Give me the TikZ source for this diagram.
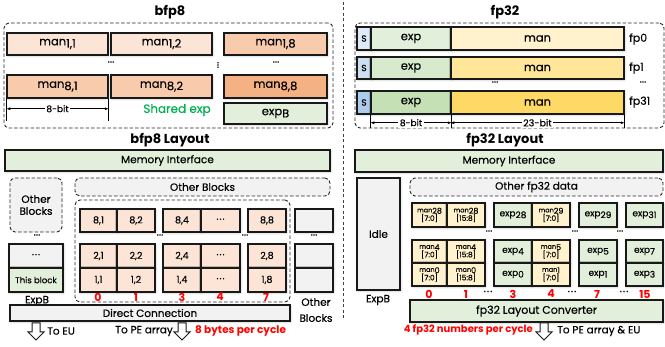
\documentclass[tikz,border=0pt]{standalone}
\usepackage{fontspec}
\setmainfont{Poppins}[UprightFeatures={FakeBold=0.35}]
\usetikzlibrary{shadows.blur,arrows.meta}

\definecolor{peachL}{HTML}{FCE4D6}
\definecolor{peachM}{HTML}{F8CBAD}
\definecolor{peachD}{HTML}{F4B183}
\definecolor{greenL}{HTML}{E2EFDA}
\definecolor{greenN}{HTML}{D8EACD}
\definecolor{greenM}{HTML}{C5E0B4}
\definecolor{yelL}{HTML}{FFF2CC}
\definecolor{yelM}{HTML}{FFE699}
\definecolor{yelD}{HTML}{FFD966}
\definecolor{bluL}{HTML}{DEEBF7}
\definecolor{bluM}{HTML}{CCDFF2}
\definecolor{bluD}{HTML}{ADCBEA}
\definecolor{grayF}{HTML}{F2F2F2}
\definecolor{sgreen}{HTML}{00B050}
\definecolor{hired}{HTML}{FF0000}

% cell given by its corners: style, x1, y1, x2, y2, name, text
\newcommand\cb[7]{\node[#1, minimum width={(#4)-(#2)}, minimum height={(#5)-(#3)}] (#6) at ({((#2)+(#4))/2},{((#3)+(#5))/2}) {#7};}
% lowered index, same size as the word
\newcommand\sub[1]{\raisebox{-0.35ex}{#1}}
% small fp32 layout cell text
\newcommand\mant[2]{{\fontsize{6.5}{6.5}\selectfont man}\raisebox{-0.3ex}{\fontsize{8}{8}\selectfont #1}\\{\fontsize{7.5}{8}\selectfont[#2]}}
\newcommand\expn[1]{exp\raisebox{-0.35ex}{#1}}
\newcommand\mdots{·\hspace{1pt}·\hspace{1pt}·}

\begin{document}
\begin{tikzpicture}[x=1pt,y=-1pt,
  cellb/.style={draw=black!90, line width=1.5pt, inner sep=0pt, align=center,
    font=\fontsize{10.5}{12}\selectfont,
    blur shadow={shadow blur steps=6, shadow xshift=0.6pt, shadow yshift=-0.8pt, shadow opacity=30}},
  bigc/.style={cellb, font=\fontsize{11.5}{12}\selectfont},
  smallc/.style={cellb, font=\fontsize{9.5}{10}\selectfont},
  expc/.style={cellb, fill=greenL, font=\fontsize{9}{10}\selectfont},
  manc/.style={cellb, fill=yelL, font=\fontsize{8}{8.5}\selectfont},
  dbox/.style={draw=black!85, dash pattern=on 3.5pt off 2pt, line width=0.9pt,
    rounded corners=5pt, inner sep=0pt, align=center, font=\fontsize{10.5}{12}\selectfont},
  ttl/.style={font=\fontsize{13}{14}\selectfont\bfseries, inner sep=0pt},
  lbl/.style={font=\fontsize{10.5}{12}\selectfont, inner sep=0pt, align=center},
  rnum/.style={font=\fontsize{11}{12}\selectfont\bfseries, text=hired, inner sep=0pt},
  dim/.style={line width=0.6pt, {Latex[length=4pt,width=3pt]}-{Latex[length=4pt,width=3pt]}},
  tick/.style={line width=0.6pt},
  hollow/.style={draw=black!90, line width=1pt, fill=white, line join=miter}
]
\useasboundingbox (0,0) rectangle (665,347);

% ---------- separator ----------
\coordinate (sepT) at (343,2);
\coordinate (sepB) at (343,320);
\draw[black!75, line width=1pt, dash pattern=on 3pt off 2.5pt] (sepT) -- (sepB);

% ================= bfp8 block =================
\node[ttl] (tbfp) at (170,12) {bfp8};
\cb{dbox}{4}{23}{333}{128}{gbfp}{}
\cb{bigc,fill=peachL}{7}{33}{108}{55}{m11}{man\sub{1,1}}
\cb{bigc,fill=peachL}{111}{33}{212}{55}{m12}{man\sub{1,2}}
\cb{bigc,fill=peachM}{224}{33}{327}{55}{m18}{man\sub{1,8}}
\cb{bigc,fill=peachM}{7}{75}{108}{98}{m81}{man\sub{8,1}}
\cb{bigc,fill=peachM}{111}{75}{212}{98}{m82}{man\sub{8,2}}
\cb{bigc,fill=peachD}{224}{75}{327}{98}{m88}{man\sub{8,8}}
\cb{bigc,fill=greenL}{224}{103}{327}{124}{expb}{exp\sub{B}}
\node[lbl] (bd1) at (111,62) {...};
\node[lbl] (bd2) at (276,62) {...};
\node[lbl, rotate=90] (bd3) at (218,65) {...};
\node[font=\fontsize{12}{13}\selectfont, text=sgreen, inner sep=0pt] (shexp) at (177,110) {Shared exp};
% 8-bit width
\coordinate (b8a) at ([yshift=-22pt]m81.south west);
\coordinate (b8b) at ([yshift=-22pt]m81.south east);
\draw[tick] (m81.south west) -- (b8a);
\draw[tick] (m81.south east) -- (b8b);
\draw[dim] ([yshift=-10pt]m81.south west) -- ([yshift=-10pt]m81.south east)
  node[midway, fill=white, inner sep=1.5pt, font=\fontsize{9}{10}\selectfont] (b8lbl) {8-bit};

% ================= fp32 block =================
\node[ttl] (tfp) at (505,12) {fp32};
\cb{dbox}{355}{23}{664}{128}{gfp}{}
\cb{cellb,fill=bluL,font=\fontsize{9}{10}\selectfont}{357}{27}{371}{50}{s0}{S}
\cb{bigc,fill=greenL}{371}{27}{451}{50}{e0}{exp}
\cb{bigc,fill=yelL}{451}{27}{624}{50}{f0}{man}
\cb{cellb,fill=bluM,font=\fontsize{9}{10}\selectfont}{357}{57}{371}{79}{s1}{S}
\cb{bigc,fill=greenN}{371}{57}{451}{79}{e1}{exp}
\cb{bigc,fill=yelM}{451}{57}{624}{79}{f1}{man}
\cb{cellb,fill=bluD,font=\fontsize{9}{10}\selectfont}{357}{91}{371}{114}{s31}{S}
\cb{bigc,fill=greenM}{371}{91}{451}{114}{e31}{exp}
\cb{bigc,fill=yelD}{451}{91}{624}{114}{f31}{man}
\node[lbl, anchor=west, font=\fontsize{11}{12}\selectfont] (lfp0) at (629,39) {fp0};
\node[lbl, anchor=west, font=\fontsize{11}{12}\selectfont] (lfp1) at (629,68) {fp1};
\node[lbl, anchor=west, font=\fontsize{11}{12}\selectfont] (lfp31) at (629,102) {fp31};
\node[lbl] (fd1) at (495,82) {...};
\node[lbl] (fd2) at (643,82) {...};
% bit widths
\coordinate (t1) at ([yshift=-13pt]e31.south west);
\coordinate (t2) at ([yshift=-13pt]e31.south east);
\coordinate (t3) at ([yshift=-13pt]f31.south east);
\draw[tick] (e31.south west) -- (t1);
\draw[tick] (e31.south east) -- (t2);
\draw[tick] (f31.south east) -- (t3);
\draw[dim] ([yshift=-8pt]e31.south west) -- ([yshift=-8pt]e31.south east)
  node[midway, fill=white, inner sep=1.5pt, font=\fontsize{9}{10}\selectfont] (f8lbl) {8-bit};
\draw[dim] ([yshift=-8pt]f31.south west) -- ([yshift=-8pt]f31.south east)
  node[midway, fill=white, inner sep=1.5pt, font=\fontsize{9.5}{10}\selectfont] (f23lbl) {23-bit};

% ================= bfp8 layout =================
\node[ttl] (tbl) at (170,140) {bfp8 Layout};
\cb{cellb,fill=greenL}{5}{150}{330}{171}{mi1}{Memory Interface}
\cb{dbox,fill=grayF}{10}{178}{62}{232}{ob1}{Other\\Blocks}
\cb{dbox,fill=grayF}{75}{178}{330}{196}{ob2}{Other Blocks}
\cb{dbox}{75}{200}{290}{302}{gblk}{}
% row 8
\cb{smallc,fill=peachL}{80}{209}{117}{232}{c81}{8,1}
\cb{smallc,fill=peachL}{117}{209}{155}{232}{c82}{8,2}
\cb{smallc,fill=peachL}{163}{209}{201}{232}{c84}{8,4}
\cb{smallc,fill=peachL}{201}{209}{240}{232}{c8x}{\mdots}
\cb{smallc,fill=peachL}{248}{209}{286}{232}{c88}{8,8}
% row 2
\cb{smallc,fill=peachL}{80}{244}{117}{268}{c21}{2,1}
\cb{smallc,fill=peachL}{117}{244}{155}{268}{c22}{2,2}
\cb{smallc,fill=peachL}{163}{244}{201}{268}{c24}{2,4}
\cb{smallc,fill=peachL}{201}{244}{240}{268}{c2x}{\mdots}
\cb{smallc,fill=peachL}{248}{244}{286}{268}{c28}{2,8}
% row 1
\cb{smallc,fill=peachL}{80}{268}{117}{292}{c11}{1,1}
\cb{smallc,fill=peachL}{117}{268}{155}{292}{c12}{1,2}
\cb{smallc,fill=peachL}{163}{268}{201}{292}{c14}{1,4}
\cb{smallc,fill=peachL}{201}{268}{240}{292}{c1x}{\mdots}
\cb{smallc,fill=peachL}{248}{268}{286}{292}{c18}{1,8}
% neighbouring blocks
\cb{smallc,fill=grayF}{295}{209}{333}{232}{r8}{}
\cb{smallc,fill=grayF}{295}{244}{333}{268}{r2}{}
\cb{smallc,fill=grayF}{295}{268}{333}{292}{r1}{}
\cb{smallc,fill=grayF}{9}{244}{63}{268}{eb1}{\mdots}
\cb{smallc,fill=greenL,font=\fontsize{8.5}{9}\selectfont}{9}{268}{63}{292}{eb0}{This block}
\node[lbl] (ld1) at (37,235) {...};
\node[lbl] (ld2) at (160,235) {...};
\node[lbl] (ld3) at (245,235) {...};
\node[lbl] (ld4) at (314,235) {...};
\node[lbl] (lexpb) at (37,301) {ExpB};
\node[lbl, font=\fontsize{10.5}{16}\selectfont] (lob) at (316,310) {Other\\Blocks};
\node[rnum] (n0) at (98,297) {0};
\node[rnum] (n1) at (136,297) {1};
\node[rnum] (n3) at (182,297) {3};
\node[rnum] (n4) at (220,297) {4};
\node[rnum] (n7) at (266,297) {7};
\cb{cellb,fill=grayF}{10}{305}{290}{321}{dc}{Direct Connection}
% outputs
\coordinate (a1) at (36,323);
\coordinate (a2) at (182,323);
\foreach \p in {a1,a2}{
  \draw[hollow] ([xshift=-4pt]\p) -- ([xshift=4pt]\p) -- ([xshift=4pt,yshift=-9pt]\p)
    -- ([xshift=8pt,yshift=-9pt]\p) -- ([yshift=-17pt]\p) -- ([xshift=-8pt,yshift=-9pt]\p)
    -- ([xshift=-4pt,yshift=-9pt]\p) -- cycle;
}
\node[lbl, anchor=west] (teu) at (47,331) {To EU};
\node[lbl, anchor=east] (tpe) at (173,331) {To PE array};
\node[rnum, anchor=west, font=\fontsize{10.5}{12}\selectfont\bfseries] (bpc) at (195,331) {8 bytes per cycle};

% ================= fp32 layout =================
\node[ttl] (tfl) at (505,140) {fp32 Layout};
\cb{cellb,fill=greenL}{355}{150}{663}{172}{mi2}{Memory Interface}
\cb{cellb,fill=grayF}{357}{178}{400}{290}{idle}{Idle}
\node[lbl] (lexpb2) at (378,300) {ExpB};
\cb{dbox,fill=grayF}{410}{178}{663}{196}{ofd}{Other fp32 data}
% upper row
\cb{manc}{412}{203}{447}{227}{u1}{\mant{28}{7:0}}
\cb{manc}{447}{203}{485}{227}{u2}{\mant{28}{15:8}}
\cb{expc}{494}{203}{532}{227}{u3}{\expn{28}}
\cb{manc}{532}{203}{570}{227}{u4}{\mant{29}{7:0}}
\cb{expc}{579}{203}{617}{227}{u5}{\expn{29}}
\cb{expc}{626}{203}{663}{227}{u6}{\expn{31}}
\node[lbl] (ud1) at (489,231) {...};
\node[lbl] (ud2) at (575,231) {...};
\node[lbl] (ud3) at (620,231) {...};
% lower rows
\cb{manc}{412}{240}{447}{263}{p1}{\mant{4}{7:0}}
\cb{manc}{447}{240}{485}{263}{p2}{\mant{4}{15:8}}
\cb{expc}{494}{240}{532}{263}{p3}{\expn{4}}
\cb{manc}{532}{240}{570}{263}{p4}{\mant{5}{7:0}}
\cb{expc}{579}{240}{617}{263}{p5}{\expn{5}}
\cb{expc}{626}{240}{663}{263}{p6}{\expn{7}}
\cb{manc}{412}{263}{447}{286}{q1}{\mant{0}{7:0}}
\cb{manc}{447}{263}{485}{286}{q2}{\mant{0}{15:8}}
\cb{expc}{494}{263}{532}{286}{q3}{\expn{0}}
\cb{manc}{532}{263}{570}{286}{q4}{\mant{1}{7:0}}
\cb{expc}{579}{263}{617}{286}{q5}{\expn{1}}
\cb{expc}{626}{263}{663}{286}{q6}{\expn{3}}
\node[rnum] (k0) at (429,294) {0};
\node[rnum] (k1) at (466,294) {1};
\node[lbl] (kd1) at (488,293) {\mdots};
\node[rnum] (k3) at (513,294) {3};
\node[rnum] (k4) at (551,294) {4};
\node[lbl] (kd2) at (572,293) {\mdots};
\node[rnum] (k7) at (597,294) {7};
\node[lbl] (kd3) at (624,293) {\mdots};
\node[rnum] (k15) at (645,294) {15};
\cb{cellb,fill=greenL,font=\fontsize{11}{12}\selectfont}{410}{300}{663}{322}{conv}{fp32 Layout Converter}
\coordinate (a3) at (544,323);
\draw[hollow] ([xshift=-4pt]a3) -- ([xshift=4pt]a3) -- ([xshift=4pt,yshift=-9pt]a3)
    -- ([xshift=8pt,yshift=-9pt]a3) -- ([yshift=-17pt]a3) -- ([xshift=-8pt,yshift=-9pt]a3)
    -- ([xshift=-4pt,yshift=-9pt]a3) -- cycle;
\node[rnum, anchor=east, font=\fontsize{10}{12}\selectfont\bfseries] (npc) at (533,330) {4 fp32 numbers per cycle};
\node[lbl, anchor=west] (tpe2) at (557,331) {To PE array \& EU};
\end{tikzpicture}
\end{document}
